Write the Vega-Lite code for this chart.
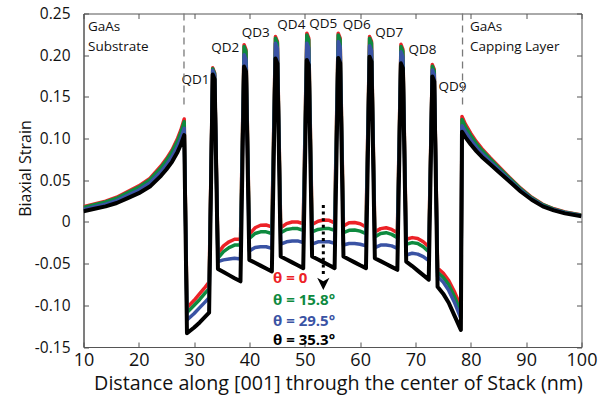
{
  "$schema": "https://vega.github.io/schema/vega-lite/v6.json",
  "width": 498,
  "height": 333.5,
  "autosize": {"type": "none"},
  "padding": {"left": 83.5, "top": 13.5, "right": 30.5, "bottom": 58},
  "config": {
    "font": "Open Sans",
    "view": {"stroke": "#555", "strokeWidth": 1},
    "axis": {"grid": false, "labelFlush": false, "labelOverlap": false, "domainColor": "#555", "tickColor": "#555", "labelColor": "#111", "titleColor": "#111", "titleFontWeight": "normal"}
  },
  "datasets": {
    "curves": [
      {"i":1,"x":10,"r":0.0182,"g":0.0173,"b":0.0151,"k":0.0128},
      {"i":2,"x":12,"r":0.0217,"g":0.0207,"b":0.0182,"k":0.0158},
      {"i":3,"x":14,"r":0.025,"g":0.024,"b":0.0214,"k":0.0187},
      {"i":4,"x":16,"r":0.0296,"g":0.0284,"b":0.0255,"k":0.0227},
      {"i":5,"x":18,"r":0.0365,"g":0.0351,"b":0.032,"k":0.0286},
      {"i":6,"x":20,"r":0.0432,"g":0.0417,"b":0.0382,"k":0.0345},
      {"i":7,"x":22,"r":0.0523,"g":0.0506,"b":0.0466,"k":0.0424},
      {"i":8,"x":24,"r":0.0671,"g":0.0652,"b":0.0602,"k":0.0553},
      {"i":9,"x":25,"r":0.076,"g":0.0739,"b":0.0686,"k":0.0632},
      {"i":10,"x":26,"r":0.0864,"g":0.084,"b":0.0781,"k":0.0721},
      {"i":11,"x":27,"r":0.1001,"g":0.0973,"b":0.0907,"k":0.084},
      {"i":12,"x":27.6,"r":0.1104,"g":0.1074,"b":0.1002,"k":0.0929},
      {"i":13,"x":28.2,"r":0.1235,"g":0.1202,"b":0.1123,"k":0.1042},
      {"i":14,"x":28.7,"r":-0.1029,"g":-0.1088,"b":-0.1177,"k":-0.1335},
      {"i":15,"x":30,"r":-0.094,"g":-0.0999,"b":-0.1098,"k":-0.1266},
      {"i":16,"x":31,"r":-0.086,"g":-0.093,"b":-0.1028,"k":-0.1206},
      {"i":17,"x":32,"r":-0.0781,"g":-0.0851,"b":-0.0959,"k":-0.1137},
      {"i":18,"x":32.7,"r":-0.0722,"g":-0.0801,"b":-0.091,"k":-0.1088},
      {"i":19,"x":33.35,"r":0.1848,"g":0.1838,"b":0.1818,"k":0.1769},
      {"i":20,"x":33.7,"r":0.1789,"g":0.1779,"b":0.1759,"k":0.1709},
      {"i":21,"x":34.3,"r":-0.0376,"g":-0.0435,"b":-0.0475,"k":-0.0564},
      {"i":22,"x":35.3,"r":-0.0287,"g":-0.0356,"b":-0.0455,"k":-0.06},
      {"i":23,"x":36.3,"r":-0.0238,"g":-0.0307,"b":-0.0445,"k":-0.0638},
      {"i":24,"x":37.3,"r":-0.0208,"g":-0.0277,"b":-0.0436,"k":-0.0675},
      {"i":25,"x":38.37,"r":-0.0208,"g":-0.0277,"b":-0.0445,"k":-0.0712},
      {"i":26,"x":39.02,"r":0.2125,"g":0.2105,"b":0.2006,"k":0.1863},
      {"i":27,"x":39.37,"r":0.2066,"g":0.2046,"b":0.1946,"k":0.1804},
      {"i":28,"x":39.97,"r":-0.0149,"g":-0.0198,"b":-0.0347,"k":-0.0455},
      {"i":29,"x":41.0,"r":-0.007,"g":-0.0139,"b":-0.0307,"k":-0.049},
      {"i":30,"x":42.0,"r":-0.004,"g":-0.0119,"b":-0.0297,"k":-0.0524},
      {"i":31,"x":43.0,"r":-0.0037,"g":-0.0119,"b":-0.0297,"k":-0.0559},
      {"i":32,"x":44.04,"r":-0.006,"g":-0.0139,"b":-0.0317,"k":-0.0594},
      {"i":33,"x":44.69,"r":0.2223,"g":0.2203,"b":0.2143,"k":0.1961},
      {"i":34,"x":45.04,"r":0.2164,"g":0.2144,"b":0.2084,"k":0.1902},
      {"i":35,"x":45.64,"r":-0.007,"g":-0.0129,"b":-0.0267,"k":-0.0415},
      {"i":36,"x":46.7,"r":-0.0021,"g":-0.009,"b":-0.0238,"k":-0.045},
      {"i":37,"x":47.7,"r":-0.0001,"g":-0.008,"b":-0.0228,"k":-0.0485},
      {"i":38,"x":48.7,"r":-0.0001,"g":-0.008,"b":-0.0228,"k":-0.052},
      {"i":39,"x":49.71,"r":-0.0021,"g":-0.01,"b":-0.0248,"k":-0.0554},
      {"i":40,"x":50.36,"r":0.2263,"g":0.2243,"b":0.2143,"k":0.1941},
      {"i":41,"x":50.71,"r":0.2204,"g":0.2184,"b":0.2084,"k":0.1882},
      {"i":42,"x":51.31,"r":-0.0031,"g":-0.0119,"b":-0.0267,"k":-0.0415},
      {"i":43,"x":52.4,"r":0.0009,"g":-0.009,"b":-0.0238,"k":-0.045},
      {"i":44,"x":53.4,"r":0.0023,"g":-0.008,"b":-0.0238,"k":-0.0485},
      {"i":45,"x":54.4,"r":0.0019,"g":-0.008,"b":-0.0238,"k":-0.052},
      {"i":46,"x":55.38,"r":-0.0011,"g":-0.01,"b":-0.0258,"k":-0.0554},
      {"i":47,"x":56.03,"r":0.2263,"g":0.2243,"b":0.2163,"k":0.1966},
      {"i":48,"x":56.38,"r":0.2204,"g":0.2184,"b":0.2104,"k":0.1907},
      {"i":49,"x":56.98,"r":-0.005,"g":-0.0129,"b":-0.0277,"k":-0.0415},
      {"i":50,"x":58.0,"r":-0.0011,"g":-0.01,"b":-0.0258,"k":-0.045},
      {"i":51,"x":59.0,"r":-0.0006,"g":-0.0097,"b":-0.0258,"k":-0.0485},
      {"i":52,"x":60.0,"r":-0.0021,"g":-0.011,"b":-0.0267,"k":-0.052},
      {"i":53,"x":61.05,"r":-0.006,"g":-0.0139,"b":-0.0287,"k":-0.0554},
      {"i":54,"x":61.7,"r":0.2223,"g":0.2203,"b":0.2114,"k":0.1981},
      {"i":55,"x":62.05,"r":0.2164,"g":0.2144,"b":0.2055,"k":0.1922},
      {"i":56,"x":62.65,"r":-0.0119,"g":-0.0179,"b":-0.0307,"k":-0.0435},
      {"i":57,"x":63.7,"r":-0.008,"g":-0.0139,"b":-0.0277,"k":-0.047},
      {"i":58,"x":64.7,"r":-0.007,"g":-0.0129,"b":-0.0277,"k":-0.0505},
      {"i":59,"x":65.7,"r":-0.009,"g":-0.0149,"b":-0.0287,"k":-0.0539},
      {"i":60,"x":66.72,"r":-0.0129,"g":-0.0188,"b":-0.0317,"k":-0.0574},
      {"i":61,"x":67.37,"r":0.213,"g":0.2105,"b":0.204,"k":0.1902},
      {"i":62,"x":67.72,"r":0.2071,"g":0.2046,"b":0.1981,"k":0.1843},
      {"i":63,"x":68.32,"r":-0.0208,"g":-0.0267,"b":-0.0396,"k":-0.0475},
      {"i":64,"x":69.4,"r":-0.0188,"g":-0.0248,"b":-0.0376,"k":-0.0529},
      {"i":65,"x":70.4,"r":-0.0198,"g":-0.0258,"b":-0.0386,"k":-0.0584},
      {"i":66,"x":71.4,"r":-0.0238,"g":-0.0297,"b":-0.0416,"k":-0.0638},
      {"i":67,"x":72.39,"r":-0.0297,"g":-0.0356,"b":-0.0465,"k":-0.0692},
      {"i":68,"x":73.04,"r":0.1888,"g":0.1868,"b":0.1823,"k":0.1744},
      {"i":69,"x":73.39,"r":0.1829,"g":0.1809,"b":0.1764,"k":0.1685},
      {"i":70,"x":73.99,"r":-0.0554,"g":-0.0604,"b":-0.0653,"k":-0.0776},
      {"i":71,"x":75.0,"r":-0.0613,"g":-0.0663,"b":-0.0722,"k":-0.086},
      {"i":72,"x":76.0,"r":-0.0702,"g":-0.0752,"b":-0.0821,"k":-0.0969},
      {"i":73,"x":77.0,"r":-0.0831,"g":-0.089,"b":-0.0959,"k":-0.1117},
      {"i":74,"x":78.2,"r":-0.1019,"g":-0.1078,"b":-0.1157,"k":-0.1295},
      {"i":75,"x":78.4,"r":0.1265,"g":0.1228,"b":0.1155,"k":0.1082},
      {"i":76,"x":79,"r":0.1176,"g":0.1144,"b":0.1081,"k":0.1017},
      {"i":77,"x":80,"r":0.1062,"g":0.1035,"b":0.0982,"k":0.0928},
      {"i":78,"x":81,"r":0.0963,"g":0.094,"b":0.0895,"k":0.0849},
      {"i":79,"x":82,"r":0.0879,"g":0.0859,"b":0.082,"k":0.078},
      {"i":80,"x":83.5,"r":0.077,"g":0.0754,"b":0.0723,"k":0.0691},
      {"i":81,"x":85,"r":0.0667,"g":0.0654,"b":0.0628,"k":0.0602},
      {"i":82,"x":87,"r":0.0533,"g":0.0523,"b":0.0503,"k":0.0484},
      {"i":83,"x":89,"r":0.0405,"g":0.0397,"b":0.0381,"k":0.0365},
      {"i":84,"x":91,"r":0.0296,"g":0.029,"b":0.0278,"k":0.0266},
      {"i":85,"x":93,"r":0.0212,"g":0.0207,"b":0.0197,"k":0.0187},
      {"i":86,"x":95,"r":0.0158,"g":0.0154,"b":0.0146,"k":0.0138},
      {"i":87,"x":97,"r":0.0121,"g":0.0118,"b":0.011,"k":0.0103},
      {"i":88,"x":100,"r":0.0083,"g":0.008,"b":0.0074,"k":0.0069}
    ],
    "qd": [
      {"x":30.24,"y":0.1702,"t":"QD1"},
      {"x":35.63,"y":0.2083,"t":"QD2"},
      {"x":41.14,"y":0.2272,"t":"QD3"},
      {"x":47.56,"y":0.2368,"t":"QD4"},
      {"x":53.34,"y":0.2378,"t":"QD5"},
      {"x":59.38,"y":0.2368,"t":"QD6"},
      {"x":65.25,"y":0.2266,"t":"QD7"},
      {"x":71.27,"y":0.2066,"t":"QD8"},
      {"x":76.69,"y":0.1622,"t":"QD9"}
    ],
    "regions": [
      {"x":10.81,"y":0.2344,"t":"GaAs"},
      {"x":10.81,"y":0.2104,"t":"Substrate"},
      {"x":79.85,"y":0.2344,"t":"GaAs"},
      {"x":79.85,"y":0.2104,"t":"Capping Layer"}
    ],
    "theta": [
      {"x":44.25,"y":-0.0678,"t":"θ = 0","s":"a"},
      {"x":44.25,"y":-0.0933,"t":"θ = 15.8°","s":"b"},
      {"x":44.25,"y":-0.1188,"t":"θ = 29.5°","s":"c"},
      {"x":44.25,"y":-0.1415,"t":"θ = 35.3°","s":"d"}
    ],
    "arrow": [{"x":53.34,"y1":0.0203,"y2":-0.0623,"yh":-0.0743}],
    "interfaces": [
      {"x":28.16,"y1":0.25,"y2":0.1367},
      {"x":78.5,"y1":0.25,"y2":0.1367}
    ]
  },
  "layer": [
    {
      "layer": [
        {
          "data": {"name": "curves"},
          "mark": {"type": "line", "color": "#ec2227", "strokeWidth": 3.5, "strokeJoin": "round", "clip": true},
          "encoding": {
            "x": {"field": "x", "type": "quantitative", "scale": {"domain": [10, 100], "nice": false, "zero": false},
              "axis": {"values": [10,20,30,40,50,60,70,80,90,100], "tickSize": -5, "labelPadding": 9, "labelFontSize": 18,
                "title": "Distance along [001] through the center of Stack (nm)", "titleFontSize": 19.7, "titleX": 254.5, "titleY": 36, "titleBaseline": "middle"}},
            "y": {"field": "r", "type": "quantitative", "scale": {"domain": [-0.15, 0.25], "nice": false, "zero": false},
              "axis": {"values": [-0.15,-0.1,-0.05,0,0.05,0.1,0.15,0.2,0.25], "tickSize": -5, "labelPadding": 18.5, "labelFontSize": 15.5,
                "labelExpr": "datum.value == 0 ? '0' : replace(format(datum.value, '.2f'), '−', '-')",
                "title": "Biaxial Strain", "titleFontSize": 16, "titleX": -58.5, "titleY": 154.5, "titleBaseline": "middle", "titleAlign": "center"}},
            "order": {"field": "i", "type": "quantitative"}
          }
        },
        {
          "data": {"name": "curves"},
          "mark": {"type": "line", "color": "#0e8a3f", "strokeWidth": 3.5, "strokeJoin": "round", "clip": true},
          "encoding": {
            "x": {"field": "x", "type": "quantitative"},
            "y": {"field": "g", "type": "quantitative"},
            "order": {"field": "i", "type": "quantitative"}
          }
        },
        {
          "data": {"name": "curves"},
          "mark": {"type": "line", "color": "#3a53a4", "strokeWidth": 3.5, "strokeJoin": "round", "clip": true},
          "encoding": {
            "x": {"field": "x", "type": "quantitative"},
            "y": {"field": "b", "type": "quantitative"},
            "order": {"field": "i", "type": "quantitative"}
          }
        },
        {
          "data": {"name": "curves"},
          "mark": {"type": "line", "color": "#000000", "strokeWidth": 4, "strokeJoin": "round", "clip": true},
          "encoding": {
            "x": {"field": "x", "type": "quantitative"},
            "y": {"field": "k", "type": "quantitative"},
            "order": {"field": "i", "type": "quantitative"}
          }
        },
        {
          "data": {"name": "arrow"},
          "mark": {"type": "rule", "color": "#000", "strokeWidth": 3, "strokeDash": [3, 3.6]},
          "encoding": {
            "x": {"field": "x", "type": "quantitative"},
            "y": {"field": "y1", "type": "quantitative"},
            "y2": {"field": "y2"}
          }
        },
        {
          "data": {"name": "arrow"},
          "mark": {"type": "point", "shape": "M-1,-1L0,-0.45L1,-1L0,1Z", "filled": true, "color": "#000", "size": 150, "opacity": 1},
          "encoding": {
            "x": {"field": "x", "type": "quantitative"},
            "y": {"field": "yh", "type": "quantitative"}
          }
        },
        {
          "data": {"name": "qd"},
          "mark": {"type": "text", "font": "Open Sans", "fontSize": 13.5, "color": "#111", "align": "center", "baseline": "middle"},
          "encoding": {
            "x": {"field": "x", "type": "quantitative"},
            "y": {"field": "y", "type": "quantitative"},
            "text": {"field": "t"}
          }
        },
        {
          "data": {"name": "regions"},
          "mark": {"type": "text", "font": "Open Sans", "fontSize": 13.5, "color": "#111", "align": "left", "baseline": "middle"},
          "encoding": {
            "x": {"field": "x", "type": "quantitative"},
            "y": {"field": "y", "type": "quantitative"},
            "text": {"field": "t"}
          }
        },
        {
          "data": {"name": "theta"},
          "mark": {"type": "text", "font": "Open Sans", "fontSize": 15, "fontWeight": "bold", "align": "left", "baseline": "middle"},
          "encoding": {
            "x": {"field": "x", "type": "quantitative"},
            "y": {"field": "y", "type": "quantitative"},
            "text": {"field": "t"},
            "color": {"field": "s", "type": "nominal", "scale": {"domain": ["a","b","c","d"], "range": ["#ec2227","#0e8a3f","#3a53a4","#000000"]}, "legend": null}
          }
        }
      ]
    },
    {
      "data": {"name": "interfaces"},
      "mark": {"type": "rule", "color": "#7a7a7a", "strokeWidth": 1.3, "strokeDash": [7, 5]},
      "encoding": {
        "x": {"field": "x", "type": "quantitative", "axis": {"orient": "top", "values": [10,20,30,40,50,60,70,80,90,100], "labels": false, "title": null, "tickSize": -5, "domain": false}},
        "y": {"field": "y1", "type": "quantitative", "axis": {"orient": "right", "values": [-0.15,-0.1,-0.05,0,0.05,0.1,0.15,0.2,0.25], "labels": false, "title": null, "tickSize": -5, "domain": false}},
        "y2": {"field": "y2"}
      }
    }
  ],
  "resolve": {"axis": {"x": "independent", "y": "independent"}}
}
